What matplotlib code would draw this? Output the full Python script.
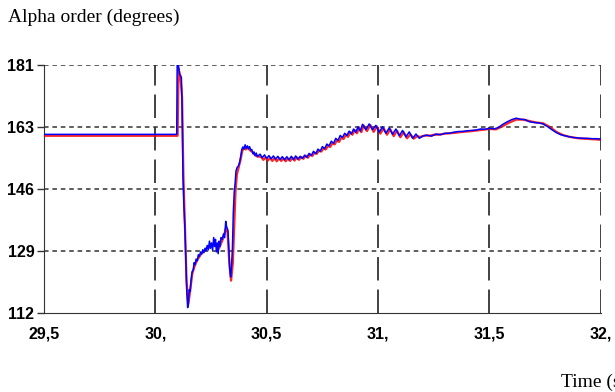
import matplotlib
matplotlib.use("Agg")
from matplotlib import pyplot as plt

# blue trace (time in s, angle in degrees)
blue_t = [29.50, 30.096, 30.098, 30.104, 30.108, 30.113, 30.117, 30.120, 30.124, 30.128,
          30.133, 30.137, 30.141, 30.145, 30.148, 30.152, 30.156, 30.160, 30.165, 30.170,
          30.174, 30.178, 30.183, 30.188, 30.193, 30.198, 30.203, 30.208, 30.213, 30.218,
          30.223, 30.228, 30.233, 30.238, 30.243, 30.247, 30.252, 30.257, 30.262, 30.266,
          30.270, 30.274, 30.278, 30.282, 30.286, 30.290, 30.295, 30.300, 30.306, 30.311,
          30.316, 30.320, 30.326, 30.330, 30.334, 30.338, 30.342, 30.346, 30.350, 30.354,
          30.358, 30.362, 30.367, 30.372, 30.378, 30.383, 30.388, 30.393, 30.398, 30.403,
          30.408, 30.413, 30.418, 30.423, 30.428, 30.433, 30.438, 30.443, 30.448, 30.453,
          30.458, 30.47, 30.48, 30.49, 30.50, 30.51, 30.52, 30.53, 30.54, 30.55,
          30.56, 30.57, 30.58, 30.59, 30.60, 30.61, 30.62, 30.63, 30.64, 30.65,
          30.66, 30.67, 30.68, 30.69, 30.70, 30.71, 30.72, 30.73, 30.74, 30.75,
          30.76, 30.77, 30.78, 30.79, 30.80, 30.81, 30.82, 30.83, 30.84, 30.85,
          30.86, 30.87, 30.88, 30.89, 30.90, 30.91, 30.92, 30.930, 30.945, 30.960,
          30.975, 30.990, 31.005, 31.020, 31.035, 31.050, 31.065, 31.080, 31.095, 31.110,
          31.125, 31.140, 31.155, 31.170, 31.185, 31.200, 31.22, 31.24, 31.26, 31.28,
          31.30, 31.32, 31.34, 31.36, 31.38, 31.40, 31.42, 31.44, 31.46, 31.48,
          31.50, 31.52, 31.54, 31.56, 31.58, 31.60, 31.62, 31.64, 31.66, 31.68,
          31.70, 31.72, 31.74, 31.76, 31.78, 31.80, 31.82, 31.84, 31.86, 31.88,
          31.90, 31.92, 31.94, 31.96, 31.98, 32.00]
blue_v = [161.7, 161.7, 181.0, 180.8, 178.5, 178.0, 177.5, 170.0, 150.0, 142.0,
          135.0, 126.0, 118.0, 113.5, 114.5, 118.5, 118.0, 121.0, 123.5, 124.0,
          126.0, 125.5, 127.0, 126.5, 128.2, 127.8, 129.0, 128.4, 129.6, 128.8,
          130.0, 129.3, 130.8, 129.6, 132.0, 130.0, 131.5, 129.5, 133.0, 130.5,
          132.5, 129.0, 131.5, 128.5, 132.0, 130.5, 133.0, 132.5, 134.0, 133.0,
          137.5, 136.0, 135.0, 130.0, 124.0, 122.0, 125.0, 130.0, 140.0, 145.5,
          148.0, 151.5, 152.5, 152.8, 153.8, 155.5, 157.5, 158.2, 157.6, 158.8,
          157.8, 158.5, 157.7, 158.3, 157.3, 157.5, 156.3, 156.8, 155.8, 156.5,
          155.5, 156.2, 155.2, 156.0, 155.0, 155.8, 154.9, 155.7, 154.8, 155.6,
          154.7, 155.5, 154.6, 155.5, 154.6, 155.6, 154.7, 155.7, 154.8, 155.6,
          155.0, 155.9, 155.3, 156.4, 155.8, 157.0, 156.3, 157.6, 157.0, 158.3,
          157.7, 159.0, 158.5, 159.8, 159.2, 160.6, 160.0, 161.4, 160.8, 162.0,
          161.4, 162.6, 161.8, 163.2, 162.3, 163.8, 162.6, 164.5, 163.0, 164.6,
          163.0, 164.2, 162.3, 163.8, 162.0, 163.5, 161.7, 163.2, 161.3, 162.8,
          161.0, 162.4, 160.6, 161.8, 160.6, 161.2, 161.5, 161.2, 161.8, 161.6,
          162.0, 162.0, 162.3, 162.5, 162.5, 162.7, 162.8, 162.9, 163.2, 163.1,
          163.4, 163.2, 163.6, 164.5, 165.2, 165.8, 166.2, 165.9, 165.8, 165.2,
          165.0, 164.9, 164.6, 163.9, 163.0, 162.2, 161.6, 161.3, 161.0, 160.8,
          160.7, 160.6, 160.6, 160.5, 160.5, 160.4]

# red trace, lags the blue one slightly
red_t = [29.50, 30.100, 30.104, 30.112, 30.120, 30.126, 30.132, 30.140, 30.148, 30.156,
         30.166, 30.176, 30.186, 30.196, 30.206, 30.216, 30.226, 30.236, 30.246, 30.256,
         30.266, 30.276, 30.286, 30.296, 30.306, 30.316, 30.324, 30.332, 30.340, 30.348,
         30.354, 30.360, 30.366, 30.374, 30.382, 30.390, 30.398, 30.406, 30.416, 30.426,
         30.436, 30.446, 30.456, 30.475, 30.485, 30.495, 30.505, 30.515, 30.525, 30.535,
         30.545, 30.555, 30.565, 30.575, 30.585, 30.595, 30.605, 30.615, 30.625, 30.635,
         30.645, 30.655, 30.665, 30.675, 30.685, 30.695, 30.705, 30.715, 30.725, 30.735,
         30.745, 30.755, 30.765, 30.775, 30.785, 30.795, 30.805, 30.815, 30.825, 30.835,
         30.845, 30.855, 30.865, 30.875, 30.885, 30.895, 30.905, 30.915, 30.925, 30.935,
         30.950, 30.965, 30.980, 30.995, 31.010, 31.025, 31.040, 31.055, 31.070, 31.085,
         31.100, 31.115, 31.130, 31.145, 31.160, 31.175, 31.19, 31.21, 31.23, 31.25,
         31.27, 31.30, 31.34, 31.38, 31.42, 31.46, 31.50, 31.53, 31.56, 31.59,
         31.62, 31.65, 31.68, 31.71, 31.74, 31.77, 31.80, 31.83, 31.86, 31.90,
         31.95, 32.00]
red_v = [161.3, 161.3, 180.0, 178.0, 172.0, 150.0, 138.0, 121.0, 114.5, 118.0,
         123.0, 125.0, 126.5, 127.5, 128.5, 129.0, 129.8, 130.5, 130.8, 131.0,
         131.2, 130.5, 130.0, 131.5, 133.0, 135.5, 134.5, 126.0, 121.0, 126.0,
         136.0, 146.0, 150.5, 152.5, 154.5, 157.0, 158.0, 157.5, 158.0, 157.2,
         156.8, 156.0, 155.6, 155.4, 154.6, 155.3, 154.4, 155.2, 154.3, 155.1,
         154.2, 155.0, 154.3, 155.0, 154.2, 155.0, 154.3, 155.2, 154.4, 155.3,
         154.6, 155.4, 154.9, 155.8, 155.2, 156.1, 155.7, 156.6, 156.3, 157.2,
         156.9, 157.8, 157.5, 158.5, 158.2, 159.2, 158.9, 160.0, 159.6, 160.8,
         160.4, 161.6, 161.0, 162.3, 161.6, 162.9, 162.0, 163.5, 162.3, 164.2,
         162.6, 164.3, 162.4, 163.9, 161.9, 163.4, 161.6, 163.1, 161.2, 162.7,
         160.9, 162.3, 160.6, 161.7, 160.5, 161.2, 161.0, 161.4, 161.3, 161.6,
         161.6, 161.9, 162.1, 162.4, 162.6, 162.9, 163.2, 163.1, 164.0, 165.0,
         165.8, 165.8, 165.4, 165.0, 164.8, 163.8, 162.4, 161.5, 161.0, 160.6,
         160.4, 160.2]

x_ticks = [29.5, 30.0, 30.5, 31.0, 31.5, 32.0]
x_labels = ["29,5", "30,", "30,5", "31,", "31,5", "32,"]
y_ticks = [112.0, 129.25, 146.5, 163.75, 181.0]
y_labels = ["112", "129", "146", "163", "181"]


def main():
    fig = plt.figure(figsize=(6.15, 3.92), dpi=100)
    ax = fig.add_axes([0.0715, 0.2015, 0.9055, 0.6327])

    ax.plot(red_t, red_v, color="#ff0000", lw=1.6, alpha=0.85, zorder=3)
    ax.plot(blue_t, blue_v, color="#0000ff", lw=1.1, zorder=4)

    ax.set_xlim(29.5, 32.0)
    ax.set_ylim(112, 181)

    # grid: dotted horizontal, long-dash vertical
    for y in y_ticks[1:]:
        ax.axhline(y, color="#333333", lw=1.1, dashes=(3, 2.5), zorder=1)
    for x in x_ticks[1:]:
        ax.axvline(x, color="#333333", lw=1.3, dashes=(13, 5), zorder=1)

    for s in ["top", "right"]:
        ax.spines[s].set_visible(False)
    ax.spines["left"].set_color("#333333")
    ax.spines["bottom"].set_color("#333333")

    ax.set_xticks(x_ticks)
    ax.set_xticklabels(x_labels)
    ax.set_yticks(y_ticks)
    ax.set_yticklabels(y_labels)
    ax.tick_params(axis="x", length=0, pad=10)
    ax.tick_params(axis="y", length=5, width=1, color="#333333", pad=2)
    for lab in ax.get_xticklabels() + ax.get_yticklabels():
        lab.set_fontfamily("Liberation Sans")
        lab.set_fontweight("bold")
        lab.set_fontsize(11.5)

    fig.text(0.013, 0.955, "Alpha order (degrees)", family="Liberation Serif",
             fontsize=14, va="center", ha="left")
    fig.text(0.913, 0.025, "Time (s)", family="Liberation Serif",
             fontsize=14, va="center", ha="left")

    fig.savefig("out.png", dpi=100)


if __name__ == "__main__":
    main()
